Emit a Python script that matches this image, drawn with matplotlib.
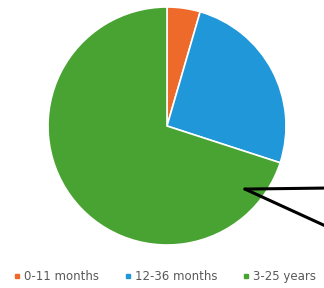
import matplotlib.pyplot as plt
from matplotlib.lines import Line2D

labels = ['0-11 months', '12-36 months', '3-25 years']
shares = [4.5, 25.5, 70.0]
colors = ['#EE6A2A', '#1F97D8', '#48A332']

fig = plt.figure(figsize=(3.24, 2.88), dpi=100)
# pie centre ~ (167,126) px, radius ~119 px
ax = fig.add_axes([48/324, 43/288, 238/324, 238/288])
ax.pie(shares, colors=colors, startangle=90, counterclock=False,
       wedgeprops={'edgecolor': 'white', 'linewidth': 1.2})
ax.set_xlim(-1, 1)
ax.set_ylim(-1, 1)
ax.set_aspect('equal')

# callout lines leaving the picture on the right
tip = (0.655, -0.53)
for ty in [188, 228]:
    ax.annotate('', xy=tip, xycoords='data', xytext=(330, 288 - ty), textcoords='figure pixels',
                arrowprops=dict(arrowstyle='-', color='black', lw=2.2, shrinkA=0, shrinkB=0),
                annotation_clip=False)

handles = [Line2D([], [], marker='s', ls='', color=c, markersize=3.5) for c in colors]
fig.legend(handles, labels, loc='center left', bbox_to_anchor=(0.01, 0.04), ncol=3,
           frameon=False, fontsize=8.5, handlelength=0.6, handletextpad=0.3,
           columnspacing=2.1, labelcolor='#595959')

fig.savefig('out.png', dpi=100)
